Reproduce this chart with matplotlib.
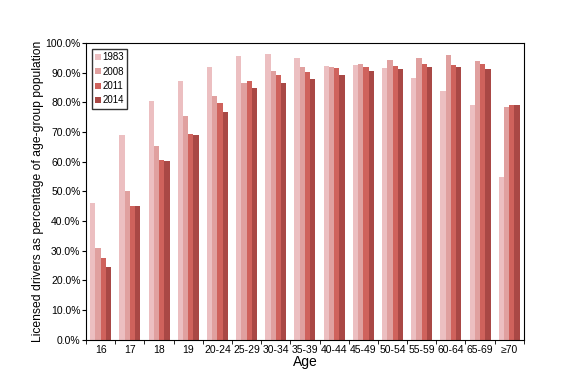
import numpy as np
import matplotlib.pyplot as plt
from matplotlib.ticker import FuncFormatter

plt.rcParams['font.family'] = ['Liberation Sans', 'DejaVu Sans']

# datos
ages = ["16", "17", "18", "19", "20-24", "25-29", "30-34", "35-39", "40-44",
        "45-49", "50-54", "55-59", "60-64", "65-69", "≥70"]
years = ["1983", "2008", "2011", "2014"]
v1983 = [46.2, 69.0, 80.4, 87.3, 91.8, 95.6, 96.4, 95.0, 92.2, 92.6, 91.5, 88.1, 83.7, 79.2, 55.0]
v2008 = [31.1, 50.0, 65.3, 75.5, 82.0, 86.4, 90.7, 91.8, 92.1, 93.0, 94.2, 95.0, 96.0, 94.1, 78.5]
v2011 = [27.6, 45.0, 60.5, 69.3, 79.7, 87.3, 89.2, 90.3, 91.7, 91.8, 92.2, 93.1, 92.6, 92.8, 79.2]
v2014 = [24.5, 45.0, 60.1, 69.0, 76.7, 85.0, 86.4, 87.9, 89.1, 90.5, 91.3, 91.8, 92.1, 91.4, 79.0]
series = [v1983, v2008, v2011, v2014]
colors = ["#ecbfc1", "#e0a09f", "#cf625c", "#a94845"]

fig = plt.figure(figsize=(5.7, 3.81), dpi=100)
ax = fig.add_axes([0.151, 0.108, 0.768, 0.779])

x = np.arange(len(ages))
w = 0.18
for i, (vals, c, yr) in enumerate(zip(series, colors, years)):
    ax.bar(x + (i - 1.5) * w, vals, w, color=c, label=yr, linewidth=0)

ax.set_xlim(-0.5, len(ages) - 0.5)
ax.set_ylim(0, 100)
ax.set_yticks(np.arange(0, 101, 10))
ax.yaxis.set_major_formatter(FuncFormatter(lambda v, p: f"{v:.1f}%"))
ax.set_xticks(x)
ax.set_xticklabels(ages)
ax.set_xticks(np.arange(-0.5, len(ages), 1), minor=True)
ax.tick_params(axis='x', which='major', length=0, labelsize=7.5, pad=4)
ax.tick_params(axis='x', which='minor', length=3, direction='out')
ax.tick_params(axis='y', labelsize=7.5, length=3, pad=1)

for s in ax.spines.values():
    s.set_linewidth(0.8)

ax.set_xlabel("Age", fontsize=10, labelpad=0)
ax.set_ylabel("Licensed drivers as percentage of age-group population", fontsize=8.7)
ax.yaxis.set_label_coords(-0.095, 0.5)

leg = ax.legend(loc='upper left', fontsize=7, frameon=True, fancybox=False,
                handlelength=0.55, handleheight=0.55, handletextpad=0.15,
                borderpad=0.35, labelspacing=0.45, borderaxespad=0.6)
leg.get_frame().set_edgecolor('black')
leg.get_frame().set_linewidth(1.0)

fig.savefig("out.png", dpi=100)
